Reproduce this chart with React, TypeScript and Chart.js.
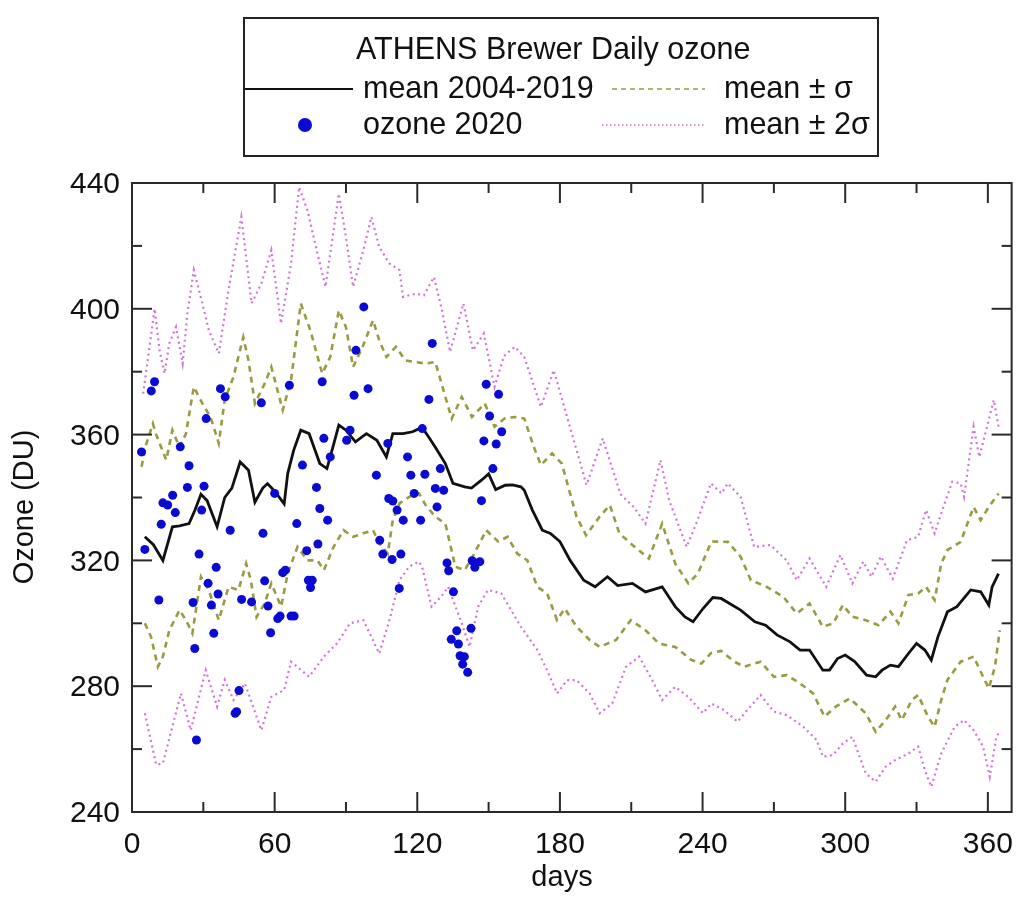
import React, { useEffect, useRef } from 'react';
import { Chart, registerables } from 'chart.js';

Chart.register(...registerables);

const FONT = '"Liberation Sans", Arial, Helvetica, sans-serif';

const LEGEND_TITLE = 'ATHENS Brewer Daily ozone';
const LABEL_MEAN = 'mean 2004-2019';
const LABEL_OZONE = 'ozone 2020';
const LABEL_SIGMA = 'mean ± σ';
const LABEL_2SIGMA = 'mean ± 2σ';
const X_TITLE = 'days';
const Y_TITLE = 'Ozone (DU)';

const X_TICKS = [0, 60, 120, 180, 240, 300, 360];
const X_MINOR = [30, 90, 150, 210, 270, 330];
const Y_TICKS = [240, 280, 320, 360, 400, 440];
const Y_MINOR = [260, 300, 340, 380, 420];

// [day, DU]
const MEAN: number[][] = [
  [5.4, 327.5], [9, 325], [13, 320], [17, 330.7], [20, 331], [24, 331.7], [26.5, 336], [29, 341], [31.6, 339],
  [35.8, 330.7], [39, 340], [42, 343], [45.5, 351.3], [49, 348.7], [51.7, 338.5], [55, 343], [57, 344.4],
  [60, 342], [64, 338], [65.5, 347.6], [68, 355], [71, 361.4], [74.5, 360.3], [77, 355], [79, 350.8],
  [82, 349.2], [84.5, 356], [87, 363], [90, 361.4], [94, 357.7], [98.6, 360.3], [103, 358.2], [107, 352.9],
  [109.7, 360.3], [114, 360.3], [118, 360.9], [122, 362.3], [125, 359], [127.6, 356], [131.8, 350.8],
  [135, 344.5], [140, 343.4], [142.8, 343], [147, 345.5], [150, 347.5], [153, 342.5], [157, 343.9],
  [160, 344], [163.6, 343.4], [165, 342.3], [168.4, 336], [172.6, 329.6], [176, 328.6], [180, 326],
  [184.3, 320], [190, 313.7], [194.8, 311.6], [200, 314.8], [204.3, 312], [210.5, 312.7], [216, 310],
  [223, 311.6], [228.5, 305.3], [232.6, 302], [236, 300.5], [240.2, 304.7], [244.3, 308.2], [247.8, 307.9],
  [256, 304.2], [262, 300.5], [266.5, 299.4], [271.3, 296.3], [276.8, 294.1], [281, 291.5], [285, 291.5],
  [290.6, 285.1], [293.4, 285.1], [296.8, 288.8], [300, 289.9], [304, 287.8], [309, 283.5], [312.8, 283],
  [315.5, 285.1], [319, 286.7], [322.4, 286.2], [326.6, 290.4], [330, 293.6], [333.5, 291.5], [336.2, 288.3],
  [339, 295.7], [343, 303.7], [347, 305.3], [352.8, 310.6], [357, 310], [360.4, 305.8], [361.8, 311.6],
  [364.5, 315.8],
];

const MEAN_PLUS_SIGMA: number[][] = [
  [4, 349.8], [6, 357], [8.8, 363.5], [10, 360.3], [14.4, 351.9], [17, 361.4], [20, 356], [22.7, 360.3],
  [26, 375.2], [29.6, 369.9], [33, 365.6], [36.5, 357.2], [39, 371], [42.7, 378.4], [46.8, 391], [49, 383.6],
  [51.7, 369.9], [55.8, 376.2], [58.6, 381.5], [63.4, 367.8], [66.9, 377.3], [71, 401.7], [75, 393.2],
  [80, 379.4], [83.4, 384.7], [87, 399.5], [90, 394.2], [93, 381.5], [97, 387.9], [101.4, 396.4], [104, 390],
  [107, 384.7], [111, 387.9], [115, 383.6], [119, 383.1], [123.5, 382.6], [127.6, 383.1], [131.8, 372],
  [134.5, 365.1], [138.7, 372], [143, 365.6], [148.4, 369.9], [152.5, 362.5], [156.7, 365.1], [161, 365.6],
  [165, 365.1], [169, 356.1], [172, 350.3], [176.7, 354], [180.8, 350.8], [184, 342], [187, 333.9],
  [191, 328], [196.7, 333.9], [201, 337.6], [205, 328.6], [210.5, 324.9], [217.4, 320.6], [223, 331.7],
  [228.5, 319], [234, 312.7], [238, 315.8], [243.7, 326], [250.6, 325.9], [256, 321.2], [260.3, 313.7],
  [267, 311.6], [274, 308.4], [279.6, 303.1], [285, 306.3], [290.6, 298.9], [295, 300], [299, 305.8],
  [303, 302.1], [308.6, 301], [314, 299.4], [319, 303.7], [322.4, 300], [326.6, 309], [330.7, 309.5],
  [334, 311.6], [337.6, 307.4], [340.4, 319], [343, 323.3], [348.6, 325.9], [351.4, 331.7], [354, 337],
  [357, 332.8], [360.4, 337], [364.5, 341.3],
];

const MEAN_MINUS_SIGMA: number[][] = [
  [5.4, 300], [8, 295.7], [10.9, 286.2], [13, 289.4], [15.7, 297.8], [20, 304.2], [22.7, 301], [25.4, 296.8],
  [29, 314.8], [32.3, 310.6], [36.5, 301], [40.6, 311.6], [44.8, 310.6], [48, 319], [50, 313.7], [52.4, 302],
  [55.8, 306.3], [58.6, 312.7], [62.7, 305.3], [65.5, 315.8], [69.6, 324.3], [73.8, 320], [78, 320],
  [80.7, 316.9], [84.8, 324.3], [89, 329.6], [93, 327.5], [97.3, 328.6], [101.4, 329.6], [104, 325.4],
  [107.6, 322.2], [109.7, 332.8], [112.5, 338.1], [116.6, 340.2], [120.7, 341.3], [123.5, 337.6],
  [127.6, 333.9], [131.8, 331.7], [136, 318], [140, 316.9], [144, 322.2], [149, 329.6], [154, 326],
  [158, 327.5], [162, 322.2], [166.3, 320], [170.5, 311.6], [174.6, 309.5], [178.8, 301], [182, 304.7],
  [187, 298.9], [192.5, 294.7], [196.7, 292.5], [203.6, 294.7], [209.8, 301], [216, 297.8], [221.6, 293.6],
  [228.5, 292.5], [235.4, 288.3], [239.5, 287.2], [243.7, 290.6], [247.8, 291.2], [253.4, 287.8],
  [257.5, 286.2], [264.4, 287.8], [270, 283], [275.4, 283.5], [281, 280.9], [286.5, 277.7], [291.3, 270.3],
  [296, 273.5], [302, 276.1], [308.6, 271.4], [312.8, 265.5], [317, 269.2], [321, 273.5], [323.8, 269.2],
  [328, 275.6], [330.7, 277.2], [334.8, 270.3], [337.6, 267.1], [340.4, 275.6], [343, 282], [348.6, 287.8],
  [354, 289.4], [358, 283], [360.4, 279.3], [363, 286.2], [365, 297.8],
];

const MEAN_PLUS_2SIGMA: number[][] = [
  [4.7, 373], [6.8, 384.7], [9.5, 400], [11.6, 386.8], [13.7, 379.4], [15.7, 389], [18.5, 394.2],
  [21.3, 382.6], [23.3, 398.5], [26, 412.3], [29.6, 401.7], [32.3, 393.2], [36.5, 385.8], [40.6, 405.9],
  [46, 429.2], [50.3, 401.7], [54.4, 408], [58.6, 418.6], [62.7, 395.3], [66.9, 414.4], [70.3, 438.7],
  [73.8, 431.3], [78, 417.6], [81.4, 407], [87, 436.6], [90, 422.8], [93, 407], [97.3, 418.6], [100.7, 429.2],
  [104, 419.6], [108.3, 414.4], [112.5, 412.3], [114, 403.8], [119.4, 404.8], [122.8, 404.3], [127, 410.1],
  [130.4, 399.5], [133.8, 386.3], [139.4, 401.7], [143.4, 386.8], [148, 392.1], [152.5, 375.2],
  [156.5, 385], [161, 387.9], [165, 384.7], [172, 368.8], [177.4, 380.5], [183, 365.6], [191.2, 344],
  [198, 358.8], [205.5, 341], [211, 337], [216, 331.7], [222.3, 351.9], [226, 339], [233.3, 324.3],
  [238, 333], [243.5, 344.5], [248, 341.3], [250.6, 344.5], [256, 340.2], [261.7, 324.3], [268.5, 324.9],
  [275.4, 320], [279.6, 313.7], [285, 320.6], [292, 311.6], [298, 321.7], [303, 312.7], [307.6, 319.6],
  [311, 314.8], [315, 321.2], [320, 314.2], [326, 326.4], [330.7, 327.5], [334, 336], [337.6, 328.6],
  [341.8, 338.1], [345, 345], [348.6, 344.5], [350, 340.2], [354, 362.5], [356.4, 352.9], [362.5, 371],
  [364.5, 362.5],
];

const MEAN_MINUS_2SIGMA: number[][] = [
  [5.4, 271.4], [10.2, 255], [13, 255.5], [20.6, 277.7], [24.7, 266], [31, 285.1], [35.8, 273.5], [39, 282],
  [42.7, 275.6], [47.5, 280.9], [54.4, 266], [58.6, 276.6], [64, 278.8], [66.9, 287.8], [74.5, 283],
  [80.7, 289.4], [86.2, 293.6], [91.7, 300], [97.3, 301], [104, 290.4], [108.3, 301], [112.5, 313.7],
  [116.6, 318], [120.7, 319.6], [122, 318], [126, 305.3], [130, 308.4], [133, 311.6], [138.7, 300],
  [142, 292.5], [145.6, 305.3], [149.7, 310.6], [155.3, 309.5], [163.6, 298.9], [170.5, 291.5],
  [174.6, 285.1], [178.8, 277.7], [183, 281.9], [187, 281.9], [192.5, 277.7], [196.7, 271.4], [202, 274.5],
  [207.8, 286.2], [213.3, 289.4], [218.8, 282], [223, 275.6], [228.5, 279.8], [234, 276.6], [240.2, 271.4],
  [243.7, 274.5], [249, 272.4], [254.7, 268.7], [258.8, 272.4], [264.4, 277.2], [270, 271.9], [275.4, 270.8],
  [282.4, 267.1], [288, 262.9], [290.6, 257.6], [294.8, 258.1], [299, 261.8], [303, 263.9], [308.6, 252.3],
  [312.8, 249.6], [317, 254.4], [321, 256.5], [326.6, 258.6], [330.7, 260.8], [333.5, 253.3], [336.2, 248],
  [340.4, 258.6], [346, 267.1], [350, 269.2], [354, 266], [358, 260.8], [360.8, 251.2], [363.6, 264],
  [364.5, 265],
];

const OZONE_2020: number[][] = [
  [4.0, 354.5], [8.1, 373.9], [9.5, 376.8], [37.2, 374.6], [39.2, 372], [54.4, 370.1], [66.2, 375.7],
  [80, 376.8], [97.5, 400.6], [94.2, 386.8], [93.4, 372.5], [99.3, 374.6], [31.2, 365.1], [20.3, 356.1],
  [24, 350.1], [80.7, 358.8], [83.4, 352.9], [71.7, 350.3], [90.3, 358.2], [91.7, 361.4], [102.8, 347.1],
  [107.6, 357.2], [115.9, 352.9], [117.3, 347.1], [60, 341.3],
  [5.4, 323.5], [12.3, 331.5], [13, 338.3], [15, 337.6], [17.1, 340.7], [18.2, 335.2], [23.3, 343.2],
  [30.3, 343.6], [29.3, 336], [41.3, 329.6], [55.1, 328.6], [28.2, 322], [11.3, 307.4], [25.7, 306.6],
  [32, 312.7], [35.4, 317.8], [36.2, 309.3], [33.4, 305.8], [34.4, 296.8], [26.4, 292], [27.1, 262.9],
  [46.1, 307.6], [50.3, 306.8], [55.8, 313.5], [57.2, 305.5], [58.3, 297], [61.3, 301.5], [62.3, 302.3],
  [63.4, 316.1], [64.5, 316.9], [66.9, 302.3], [68.2, 302.3], [69.3, 331.7], [73.5, 323.1], [74.2, 313.7],
  [75.8, 313.7], [75.1, 311.4], [77.6, 343.2], [79, 336.5], [78.2, 325.2], [82.3, 332.8], [104.2, 326.4],
  [105.5, 322], [109.4, 320.3], [113.1, 322], [108, 339.7], [109.7, 338.9], [111.5, 336], [114.1, 332.8],
  [118.7, 341.3], [121.4, 332.8], [112.4, 311.1], [45, 278.6], [43.4, 271.4], [44, 271.9],
  [126.3, 389], [149, 376], [154.2, 372.8], [124.9, 371.2], [150.4, 365.9], [155.5, 360.9], [148, 358],
  [153.2, 357], [151.8, 349.2], [122.1, 361.9], [123.2, 347.4], [129.7, 349.2], [127.6, 342.9],
  [131.1, 342.3], [147, 339],
  [128.3, 337], [132.5, 319.2], [133.2, 316.7], [143.1, 319.9], [144.2, 317.8], [146.3, 319.6],
  [135.2, 310], [136.6, 297.6], [134.3, 294.9], [137.3, 293.4], [142.6, 298.4], [138, 289.7],
  [139.8, 289.4], [139.1, 287], [141.2, 284.4],
];

const COLOR_MEAN = '#111111';
const COLOR_SIGMA = '#9a9a45';
const COLOR_2SIGMA = '#cf78d2';
const COLOR_OZONE = '#0a0ad2';
const TEXT = '#111111';

const toXY = (arr: number[][]) => arr.map(([x, y]) => ({ x, y }));

const frameTicksPlugin = {
  id: 'frameTicks',
  afterDatasetsDraw(chart: any) {
    const { ctx, chartArea: a, scales } = chart;
    const xs = scales.x;
    const ys = scales.y;
    ctx.save();
    ctx.strokeStyle = '#2a2a2a';
    ctx.lineWidth = 2;
    ctx.strokeRect(a.left, a.top, a.right - a.left, a.bottom - a.top);
    const seg = (x1: number, y1: number, x2: number, y2: number) => {
      ctx.beginPath();
      ctx.moveTo(x1, y1);
      ctx.lineTo(x2, y2);
      ctx.stroke();
    };
    X_TICKS.forEach((v) => {
      const p = xs.getPixelForValue(v);
      seg(p, a.bottom, p, a.bottom - 20);
      seg(p, a.top, p, a.top + 20);
    });
    X_MINOR.forEach((v) => {
      const p = xs.getPixelForValue(v);
      seg(p, a.bottom, p, a.bottom - 10);
      seg(p, a.top, p, a.top + 10);
    });
    Y_TICKS.forEach((v) => {
      const p = ys.getPixelForValue(v);
      seg(a.left, p, a.left + 20, p);
      seg(a.right, p, a.right - 20, p);
    });
    Y_MINOR.forEach((v) => {
      const p = ys.getPixelForValue(v);
      seg(a.left, p, a.left + 10, p);
      seg(a.right, p, a.right - 10, p);
    });

    // axis titles
    ctx.fillStyle = TEXT;
    ctx.font = `29px ${FONT}`;
    ctx.textAlign = 'center';
    ctx.textBaseline = 'middle';
    ctx.fillText(X_TITLE, 562, 878);
    ctx.save();
    ctx.translate(25, 507);
    ctx.rotate(-Math.PI / 2);
    ctx.fillText(Y_TITLE, 0, 0);
    ctx.restore();
    ctx.restore();
  },
};

const legendPlugin = {
  id: 'boxLegend',
  afterDraw(chart: any) {
    const ctx = chart.ctx;
    ctx.save();
    ctx.fillStyle = '#ffffff';
    ctx.fillRect(244, 18, 634, 138);
    ctx.strokeStyle = '#222222';
    ctx.lineWidth = 2;
    ctx.strokeRect(244, 18, 634, 138);
    ctx.font = `30.5px ${FONT}`;
    ctx.fillStyle = TEXT;
    ctx.textAlign = 'left';
    ctx.textBaseline = 'middle';
    ctx.fillText(LEGEND_TITLE, 356, 51);
    ctx.fillText(LABEL_MEAN, 363, 90);
    ctx.fillText(LABEL_SIGMA, 724, 90);
    ctx.fillText(LABEL_OZONE, 363, 126);
    ctx.fillText(LABEL_2SIGMA, 724, 126);

    ctx.strokeStyle = COLOR_MEAN;
    ctx.lineWidth = 2;
    ctx.beginPath();
    ctx.moveTo(245, 89);
    ctx.lineTo(353, 89);
    ctx.stroke();

    ctx.strokeStyle = COLOR_SIGMA;
    ctx.lineWidth = 1.5;
    ctx.setLineDash([5, 4]);
    ctx.beginPath();
    ctx.moveTo(612, 89);
    ctx.lineTo(705, 89);
    ctx.stroke();

    ctx.strokeStyle = COLOR_2SIGMA;
    ctx.setLineDash([1.5, 2.5]);
    ctx.beginPath();
    ctx.moveTo(602, 125);
    ctx.lineTo(705, 125);
    ctx.stroke();
    ctx.setLineDash([]);

    ctx.fillStyle = COLOR_OZONE;
    ctx.beginPath();
    ctx.arc(305, 125, 7, 0, Math.PI * 2);
    ctx.fill();
    ctx.restore();
  },
};

export default function App() {
  const canvasRef = useRef<HTMLCanvasElement | null>(null);

  useEffect(() => {
    const canvas = canvasRef.current;
    if (!canvas) return;
    const lineCommon = { showLine: true, pointRadius: 0, fill: false, tension: 0 };
    const chart = new Chart(canvas, {
      type: 'scatter',
      data: {
        datasets: [
          {
            label: LABEL_OZONE,
            data: toXY(OZONE_2020),
            showLine: false,
            pointRadius: 4.5,
            pointBackgroundColor: COLOR_OZONE,
            pointBorderWidth: 0,
            borderColor: COLOR_OZONE,
            order: 0,
          },
          {
            label: LABEL_MEAN,
            data: toXY(MEAN),
            ...lineCommon,
            borderColor: COLOR_MEAN,
            borderWidth: 2.8,
            order: 1,
          },
          {
            label: LABEL_SIGMA + ' +',
            data: toXY(MEAN_PLUS_SIGMA),
            ...lineCommon,
            borderColor: COLOR_SIGMA,
            borderWidth: 2.6,
            borderDash: [6, 5],
            order: 2,
          },
          {
            label: LABEL_SIGMA + ' -',
            data: toXY(MEAN_MINUS_SIGMA),
            ...lineCommon,
            borderColor: COLOR_SIGMA,
            borderWidth: 2.6,
            borderDash: [6, 5],
            order: 2,
          },
          {
            label: LABEL_2SIGMA + ' +',
            data: toXY(MEAN_PLUS_2SIGMA),
            ...lineCommon,
            borderColor: COLOR_2SIGMA,
            borderWidth: 2.2,
            borderDash: [2, 3.5],
            order: 3,
          },
          {
            label: LABEL_2SIGMA + ' -',
            data: toXY(MEAN_MINUS_2SIGMA),
            ...lineCommon,
            borderColor: COLOR_2SIGMA,
            borderWidth: 2.2,
            borderDash: [2, 3.5],
            order: 3,
          },
        ],
      } as any,
      options: {
        responsive: false,
        animation: false,
        devicePixelRatio: 1,
        layout: { padding: { left: 0, top: 183, right: 3, bottom: 0 } },
        plugins: {
          legend: { display: false },
          tooltip: { enabled: false },
        },
        scales: {
          x: {
            type: 'linear',
            min: 0,
            max: 370,
            afterBuildTicks: (s: any) => {
              s.ticks = X_TICKS.map((v) => ({ value: v }));
            },
            afterFit: (s: any) => {
              s.height = 103;
            },
            grid: { display: false, drawTicks: false },
            border: { display: false },
            ticks: {
              font: { family: FONT, size: 30 },
              color: TEXT,
              padding: 15,
              maxRotation: 0,
              autoSkip: false,
            },
          },
          y: {
            type: 'linear',
            min: 240,
            max: 440,
            afterBuildTicks: (s: any) => {
              s.ticks = Y_TICKS.map((v) => ({ value: v }));
            },
            afterFit: (s: any) => {
              s.width = 132;
            },
            grid: { display: false, drawTicks: false },
            border: { display: false },
            ticks: {
              font: { family: FONT, size: 30 },
              color: TEXT,
              padding: 12,
              labelOffset: 2,
              autoSkip: false,
            },
          },
        },
      } as any,
      plugins: [frameTicksPlugin, legendPlugin],
    });
    return () => chart.destroy();
  }, []);

  return (
    <div style={{ position: 'absolute', left: 0, top: 0, width: 1028, height: 915, background: '#ffffff' }}>
      <canvas ref={canvasRef} width={1028} height={915} style={{ display: 'block' }} />
    </div>
  );
}
